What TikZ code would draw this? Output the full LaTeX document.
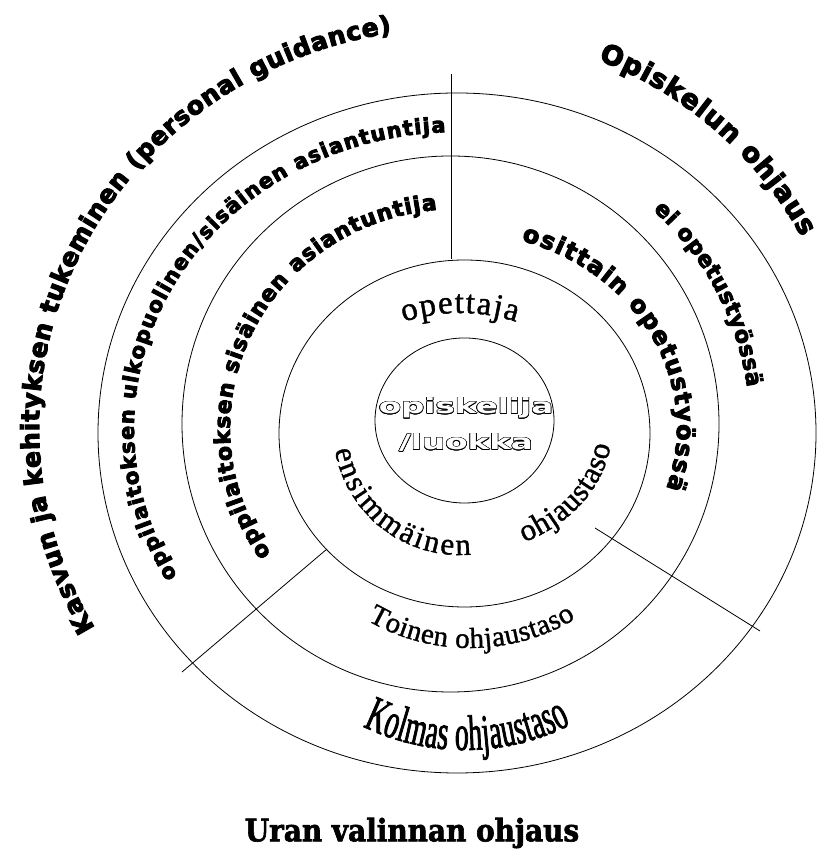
\documentclass[tikz,border=0pt]{standalone}
\usepackage{fontspec}
\usepackage{contour}
\usetikzlibrary{decorations.text}
\newfontfamily\heavyfont[FakeBold=4]{DejaVu Sans Bold}
\newfontfamily\romanfont[FakeBold=1.2]{Liberation Serif}
\newfontfamily\condfont[FakeStretch=0.55,FakeBold=1.5]{Liberation Serif}
\newfontfamily\widefont[FakeStretch=1.55]{DejaVu Sans Bold}
\newfontfamily\uranfont[FakeStretch=0.9,FakeBold=2]{DejaVu Serif Bold}
\contourlength{0.6pt}

\tikzset{
  ring/.style={draw, line width=0.8pt},
  divider/.style={line width=0.8pt},
  arctext/.style={decorate, decoration={text along path, text align=fit to path, text={#1}}},
}

\begin{document}
\begin{tikzpicture}[x=1pt,y=1pt]
  \useasboundingbox (0,0) rectangle (827,856);
  \coordinate (c) at (457,428);

  %Shape: Circles
  \draw[ring] (464.5,435.5) ellipse [x radius=89.5pt, y radius=82.5pt];
  \draw[ring] (464.5,422.5) ellipse [x radius=185.5pt, y radius=173.5pt];
  \draw[ring] (450.5,432) ellipse [x radius=268.5pt, y radius=268pt];
  \draw[ring] (457,423) ellipse [x radius=359pt, y radius=340pt];

  %Straight Lines
  \coordinate (topend) at (451,782);
  \coordinate (c2top) at (451,597);
  \coordinate (c2sw) at (327,307);
  \coordinate (swend) at (182,184);
  \coordinate (seinner) at (595,328);
  \coordinate (seend) at (760,225);
  \draw[divider] (topend) -- (c2top);
  \draw[divider] (c2sw) -- (swend);
  \draw[divider] (seinner) -- (seend);

  % Text Node
  \node (core) at (466,431) [align=center, inner sep=0pt, font=\widefont\fontsize{21}{36}\selectfont]
    {{\color{white}\contour{black}{opiskelija}}\\{\color{white}\contour{black}{/luokka}}};
  % Text Node
  \node (uran) at (412,23) [inner sep=0pt, font=\uranfont\fontsize{31}{31}\selectfont] {Uran valinnan ohjaus};

  % Arc texts, outer ring
  \path[arctext={|\heavyfont\fontsize{25}{25}\selectfont|Kasvun ja kehityksen tukeminen (personal guidance)}]
    ([shift={(c)}]210:418pt and 400pt) arc [start angle=210, end angle=99, x radius=418pt, y radius=400pt];
  \path[arctext={|\heavyfont\fontsize{27}{27}\selectfont|Opiskelun ohjaus}]
    ([shift={(c)}]69:394pt) arc [start angle=69, end angle=29, radius=394pt];

  % Arc texts, third ring
  \path[arctext={|\heavyfont\fontsize{21}{21}\selectfont|oppilaitoksen ulkopuolinen/sisäinen asiantuntija}]
    ([shift={(c)}]210:323pt and 296pt) arc [start angle=210, end angle=92, x radius=323pt, y radius=296pt];
  \path[arctext={|\heavyfont\fontsize{22}{22}\selectfont|ei opetustyössä}]
    ([shift={(c)}]48:293pt) arc [start angle=48, end angle=8, radius=293pt];

  % Arc texts, second ring
  \path[arctext={|\heavyfont\fontsize{22}{22}\selectfont|oppilaitoksen sisäinen asiantuntija}]
    ([shift={(c)}]215:227pt and 219pt) arc [start angle=215, end angle=95, x radius=227pt, y radius=219pt];
  \path[arctext={|\heavyfont\fontsize{24}{24}\selectfont|osittain opetustyössä}]
    ([shift={(c)}]73:220pt and 196pt) arc [start angle=73, end angle=-18, x radius=220pt, y radius=196pt];

  % Arc texts, inner rings
  \path[arctext={|\romanfont\fontsize{33}{33}\selectfont|opettaja}]
    ([shift={(460,361)}]108:182pt) arc [start angle=108, end angle=72, radius=182pt];
  \path[arctext={|\romanfont\fontsize{31}{31}\selectfont|ensimmäinen}]
    ([shift={(460,428)}]190:127pt) arc [start angle=190, end angle=275, radius=127pt];
  \path[arctext={|\romanfont\fontsize{31}{31}\selectfont|ohjaustaso}]
    ([shift={(460,428)}]295:152pt and 126pt) arc [start angle=295, end angle=352, x radius=152pt, y radius=126pt];
  \path[arctext={|\romanfont\fontsize{29}{29}\selectfont|Toinen ohjaustaso}]
    ([shift={(470,413)}]240:205pt) arc [start angle=240, end angle=301, radius=205pt];
  \path[arctext={|\condfont\fontsize{50}{50}\selectfont|Kolmas ohjaustaso}]
    ([shift={(465,339)}]244:233pt) arc [start angle=244, end angle=297, radius=233pt];
\end{tikzpicture}
\end{document}
